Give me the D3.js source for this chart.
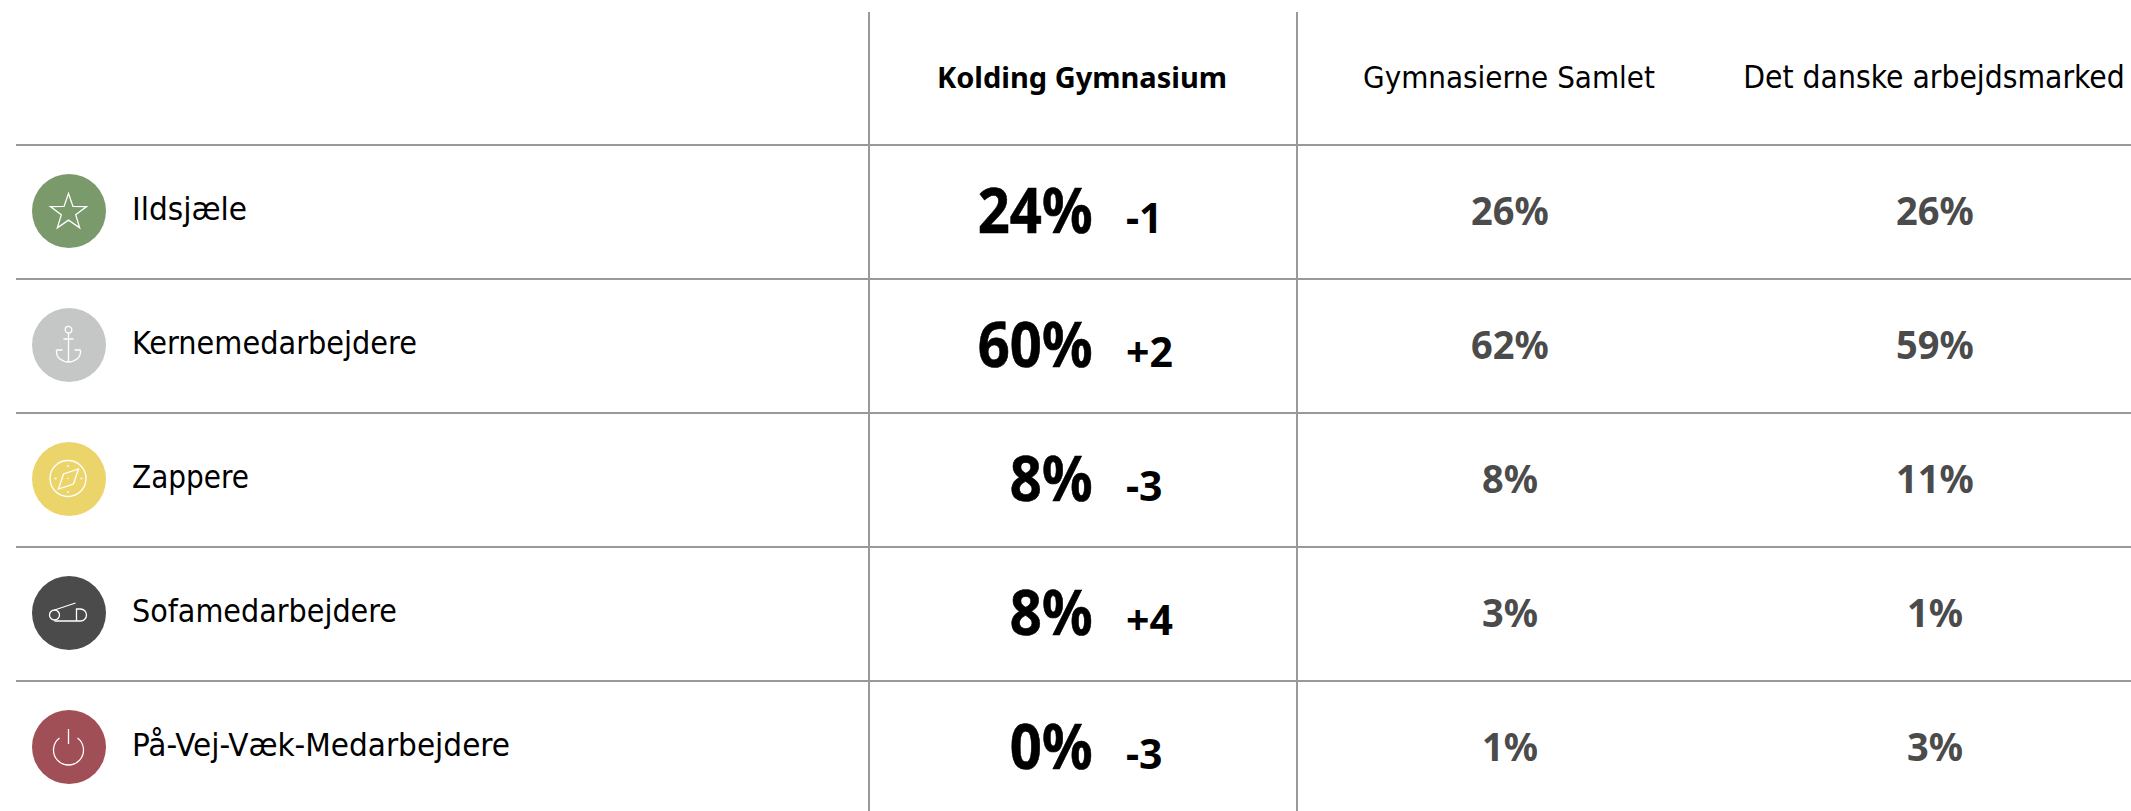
<!DOCTYPE html>
<html>
<head>
<meta charset="utf-8">
<script src="https://cdn.jsdelivr.net/npm/d3@7"></script>
<style>
    html, body { margin: 0; padding: 0; background: #fff; overflow: hidden; }
    text { font-family: Tahoma, "DejaVu Sans", Verdana, sans-serif; font-stretch: condensed; }
    text.strong { font-family: "Noto Sans", Tahoma, sans-serif; font-stretch: normal; font-weight: 700; }
</style>
</head>
<body>
<div id="chart"></div>
<script>
const categories = ["Ildsjæle", "Kernemedarbejdere", "Zappere", "Sofamedarbejdere", "På-Vej-Væk-Medarbejdere"];
const columns = ["Kolding Gymnasium", "Gymnasierne Samlet", "Det danske arbejdsmarked"];
const kolding = [24, 60, 8, 8, 0];
const koldingChange = [-1, 2, -3, 4, -3];
const samlet = [26, 62, 8, 3, 1];
const arbejdsmarked = [26, 59, 11, 1, 3];
const iconColors = ["#7a9a6c", "#c5c7c6", "#ebd56b", "#4b4b4b", "#a04f56"];

const width = 2131, height = 811;
const lineColor = "#999";
// measured widths of the row labels, the installed font runs differently
const labelWidths = [115, 285, 117, 265, 378];
const headSizes = ["29px", "31px", "31.5px"];

// the installed font is wider than the original one, so squeeze the text a bit
function squeeze(selection, factor) {
    selection.each(function () {
        d3.select(this)
            .attr("lengthAdjust", "spacingAndGlyphs")
            .attr("textLength", this.getComputedTextLength() * factor);
    });
}

const svg = d3.select("#chart").append("svg")
    .attr("width", width)
    .attr("height", height);

// rows are 134px high, the first starts under the header
const y = d3.scaleBand().domain(categories).range([145, 815]);
const x = d3.scaleOrdinal().domain(columns).range([1082, 1509, 1934]);

// grid
svg.selectAll("line.row")
    .data(categories)
    .enter().append("line")
    .attr("class", "row")
    .attr("x1", 16).attr("x2", width)
    .attr("y1", d => y(d)).attr("y2", d => y(d))
    .style("stroke", lineColor).style("stroke-width", 2);

svg.selectAll("line.col")
    .data([869, 1297])
    .enter().append("line")
    .attr("class", "col")
    .attr("x1", d => d).attr("x2", d => d)
    .attr("y1", 12).attr("y2", height)
    .style("stroke", lineColor).style("stroke-width", 2);

// header
svg.selectAll("text.head")
    .data(columns)
    .enter().append("text")
    .attr("class", (d, i) => i === 0 ? "head strong" : "head")
    .attr("x", d => x(d))
    .attr("y", 88)
    .attr("text-anchor", "middle")
    .style("font-size", (d, i) => headSizes[i])
    .style("fill", "#000")
    .text(d => d);

const rows = svg.selectAll("g.row")
    .data(categories)
    .enter().append("g")
    .attr("class", "row")
    .attr("transform", d => "translate(0," + (y(d) + y.bandwidth() / 2) + ")");

rows.append("circle")
    .attr("cx", 69).attr("cy", -1).attr("r", 37)
    .style("fill", (d, i) => iconColors[i]);

rows.append("text")
    .attr("x", 132).attr("y", 8)
    .attr("lengthAdjust", "spacingAndGlyphs")
    .attr("textLength", (d, i) => labelWidths[i])
    .style("font-size", "32px")
    .style("fill", "#000")
    .text(d => d);

rows.append("text")
    .attr("class", "strong")
    .attr("x", 1092.5).attr("y", 21)
    .attr("text-anchor", "end")
    .style("font-size", "62px")
    .style("stroke", "#000")
    .style("stroke-width", 0.6)
    .text((d, i) => kolding[i] + "%")
    .call(squeeze, 0.905);

rows.append("text")
    .attr("class", "strong")
    .attr("x", 1126).attr("y", 21)
    .style("font-size", "41px")
    .text((d, i) => (koldingChange[i] > 0 ? "+" : "-") + Math.abs(koldingChange[i]));

[samlet, arbejdsmarked].forEach(function (values, c) {
    rows.append("text")
        .attr("class", "strong")
        .attr("x", x(columns[c + 1]) + 1)
        .attr("y", 13)
        .attr("text-anchor", "middle")
        .style("font-size", "40px")
        .style("fill", "#4b4b4b")
        .text((d, i) => values[i] + "%")
        .call(squeeze, 0.95);
});

// icons, line drawings inside the circles
const icons = rows.append("g")
    .attr("transform", "translate(68.5,-1)")
    .style("fill", "none")
    .style("stroke", "#fff")
    .style("stroke-width", 1.3);

const star = d3.lineRadial().curve(d3.curveLinearClosed)
    .angle((d, i) => i * Math.PI / 5)
    .radius((d, i) => i % 2 ? 7.6 : 19);

d3.select(icons.nodes()[0]).append("path")
    .attr("transform", "translate(0,1.5)")
    .attr("d", star(d3.range(10)));

const anchor = d3.select(icons.nodes()[1]);
anchor.append("circle").attr("cy", -15.3).attr("r", 3.3);
anchor.append("path").attr("d", "M0,-12V17M-5,-6H5M-12,5H-6M12,5H6M-12,5V7A12,10 0 0 0 12,7V5");

const compass = d3.select(icons.nodes()[2]);
compass.append("circle").attr("cx", -0.5).attr("cy", -0.5).attr("r", 18);
compass.append("path").attr("d", "M10,-10L5,5L-10,10L-5,-5Z");
compass.append("path").attr("d", "M-0.5,-14V-12M-0.5,12V14M-14,-0.5H-12M12,-0.5H14M-0.5,-1V0");

const pin = d3.select(icons.nodes()[3]);
pin.append("circle").attr("cx", -14).attr("cy", 2).attr("r", 5);
pin.append("path").attr("d", "M-14,-3L7,-10M-14,8H12A6,6 0 0 0 12,-4H8V8");

const power = d3.select(icons.nodes()[4]);
power.append("path").attr("d", "M0,-18V-3");
power.append("path").attr("d", "M-9,-9A15,15 0 1 0 9,-9");
</script>
</body>
</html>
